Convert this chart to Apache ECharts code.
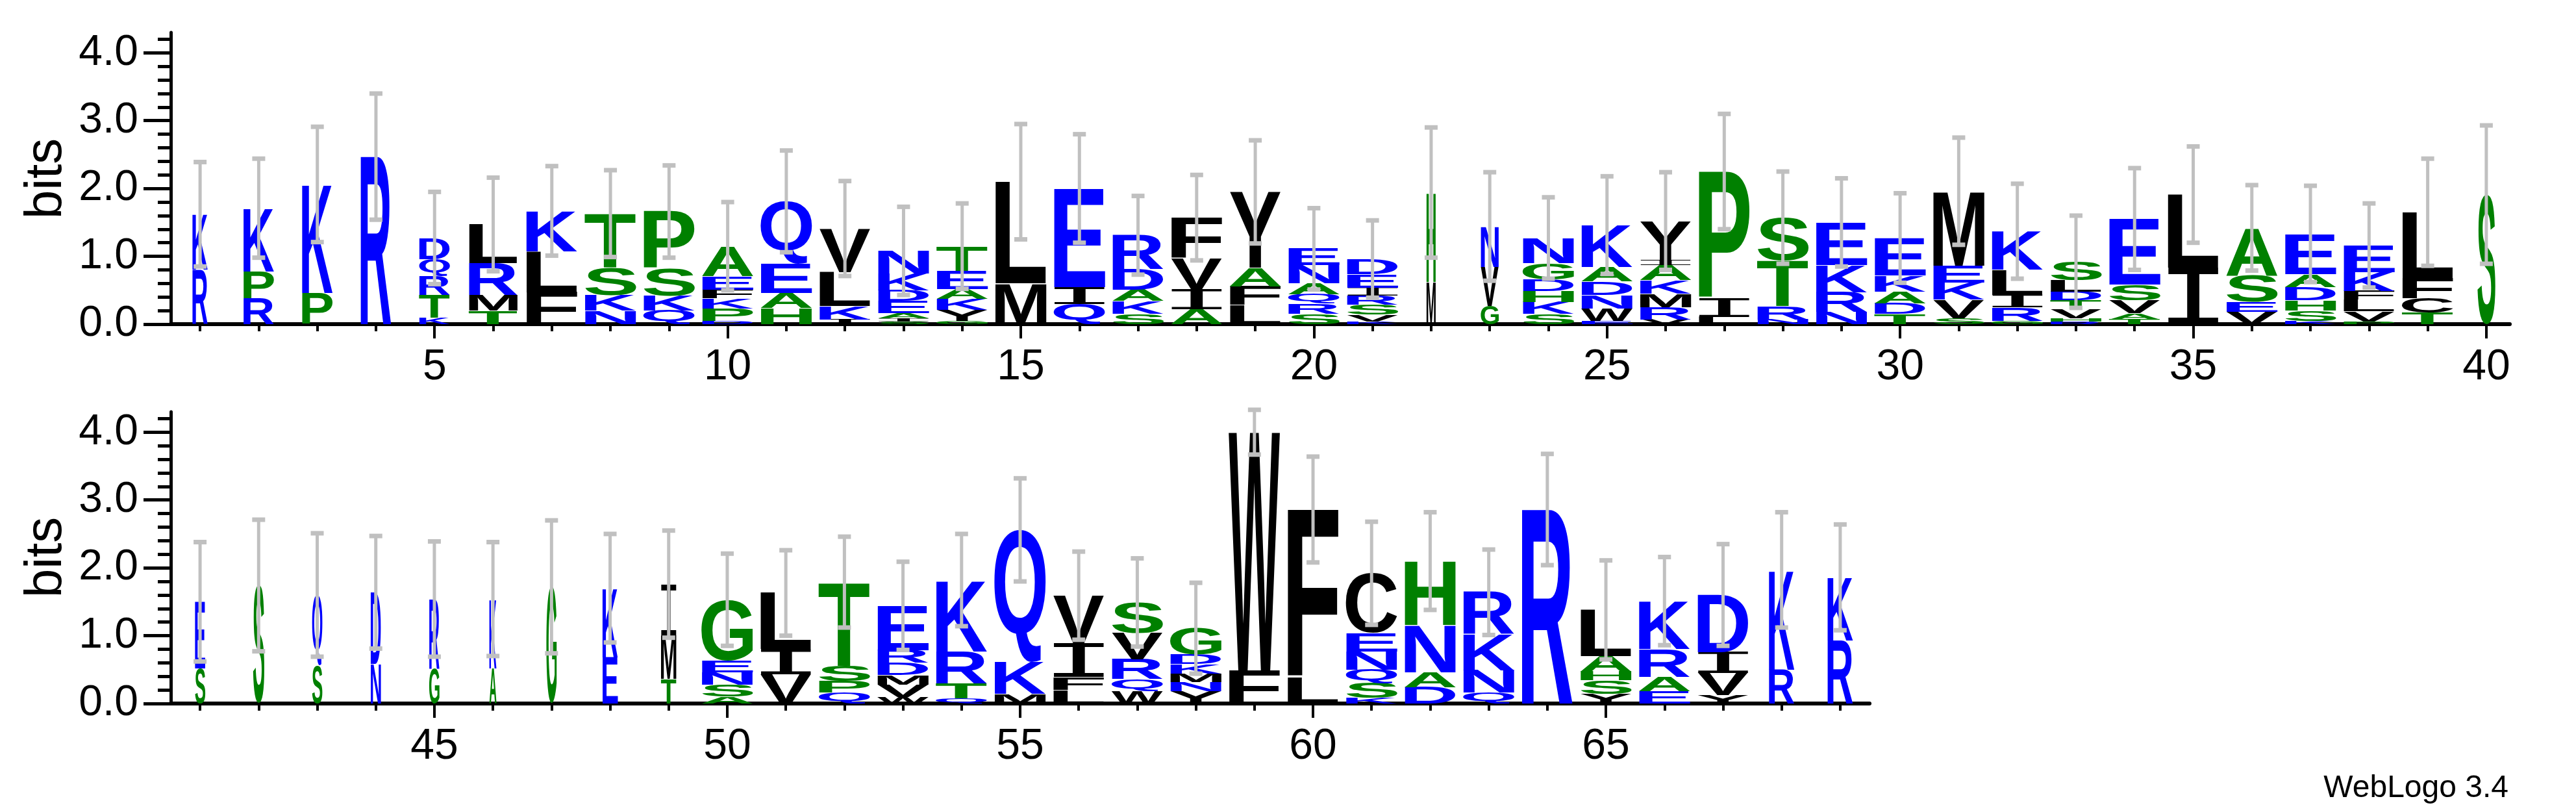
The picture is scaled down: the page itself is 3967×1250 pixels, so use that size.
<!DOCTYPE html>
<html><head><meta charset="utf-8">
<script src="https://cdn.jsdelivr.net/npm/echarts@6/dist/echarts.min.js"></script>
<style>html,body{margin:0;padding:0;background:#fff}#c{width:3967px;height:1250px}</style>
</head><body><div id="c"></div>
<script>
// ---------------- data ----------------
// letters listed bottom -> top for each position 1..69
const stackLetters = [
"RK","RPK","PK","R","KTRQD","TMRL","FLK","NKST","QKSP","DPKFEA",
"HAEQ","IKLV","SIAEDKN","GYKAET","ML","QIE","SKADR","AIVF","LFAY","SRQANE",
"KVSRIED","MH","GVN","SKHDGN","EWNDAK","VRMKAIY","LIP","NRTS","NRKE","TDAKE",
"SVKEM","GRILK","RHVTDLS","TAVSE","IL","VESA","KSHDAE","PVLFKE","TCFL","S",
"SE","S","SQ","ND","GR","AK","G","EK","TMI","ASNEG",
"VIL","QPST","WVMDRE","QTRK","MKQ","LFIV","WQRVS","YNMKDG","FW","LF",
"KSQNEC","DANH","QNKR","R","YSHAL","EARK","YVID","RK","RK"
];
const stackHeights = [
[0.80,0.82],[0.38,0.40,0.93],[0.46,1.60],[2.47],[0.10,0.33,0.28,0.25,0.31],
[0.20,0.23,0.47,0.57],[0.47,0.60,0.60],[0.20,0.23,0.40,0.80],[0.20,0.22,0.40,0.84],[0.05,0.18,0.15,0.13,0.20,0.44],
[0.24,0.22,0.43,0.92],[0.07,0.20,0.50,0.64],[0.04,0.05,0.07,0.18,0.16,0.25,0.33],[0.05,0.16,0.16,0.15,0.27,0.36],[0.60,1.50],
[0.30,0.25,1.45],[0.15,0.19,0.17,0.30,0.50],[0.22,0.30,0.45,0.60],[0.28,0.28,0.27,1.12],[0.15,0.15,0.14,0.16,0.27,0.24],
[0.04,0.10,0.15,0.13,0.12,0.20,0.22],[0.62,1.32],[0.27,0.57,0.60],[0.15,0.18,0.16,0.17,0.24,0.37],[0.05,0.18,0.20,0.20,0.21,0.62],
[0.07,0.18,0.20,0.20,0.22,0.07,0.58],[0.11,0.27,1.87],[0.07,0.20,0.67,0.63],[0.18,0.29,0.40,0.63],[0.15,0.16,0.17,0.24,0.55],
[0.09,0.27,0.25,0.25,1.10],[0.05,0.20,0.18,0.37,0.57],[0.04,0.05,0.13,0.13,0.13,0.17,0.27],[0.07,0.09,0.19,0.23,0.97],[0.83,1.08],
[0.18,0.15,0.39,0.70],[0.05,0.15,0.15,0.20,0.19,0.59],[0.04,0.15,0.17,0.13,0.28,0.39],[0.17,0.21,0.30,0.97],[1.91],
[0.52,0.98],[1.74],[0.56,1.04],[0.58,1.06],[0.52,1.02],
[0.52,1.02],[1.72],[0.68,1.02],[0.36,0.64,0.76],[0.10,0.18,0.18,0.17,0.90],
[0.43,0.37,0.83],[0.16,0.17,0.23,1.23],[0.10,0.18,0.14,0.18,0.19,0.65],[0.08,0.22,0.47,1.05],[0.14,0.47,1.95],
[0.20,0.19,0.50,0.70],[0.18,0.18,0.29,0.39,0.45],[0.18,0.14,0.12,0.14,0.14,0.39],[0.48,3.52],[0.38,2.48],
[0.08,0.22,0.20,0.27,0.27,0.88],[0.24,0.22,0.70,0.94],[0.16,0.33,0.53,0.62],[2.86],[0.14,0.20,0.13,0.23,0.68],
[0.18,0.21,0.41,0.71],[0.12,0.33,0.31,0.84],[0.50,1.47],[0.93,0.93]
];
const errUpper = [
2.39,2.44,2.91,3.40,1.95,2.16,2.33,2.27,2.34,1.80,
2.56,2.11,1.73,1.78,2.95,2.80,1.89,2.20,2.71,1.71,
1.53,2.90,2.24,1.87,2.18,2.24,3.10,2.25,2.15,1.93,
2.75,2.07,1.60,2.30,2.62,2.05,2.04,1.78,2.44,2.93,
2.38,2.71,2.51,2.47,2.39,2.38,2.70,2.50,2.55,2.21,
2.26,2.46,2.09,2.50,3.32,2.24,2.14,1.78,4.33,3.64,
2.68,2.82,2.27,3.68,2.11,2.16,2.35,2.82,2.64
];
// relative column weight (narrow letters where many gaps)
const colWeight = [
0.3,0.6,0.6,0.6,0.6,0.95,1,1,1,1, 1,1,1,1,1,1,1,1,1,1,
1,0.18,0.35,1,1,1,1,1,1,1, 1,1,1,1,1,1,1,1,1,0.35,
0.2,0.22,0.2,0.2,0.2,0.14,0.2,0.3,0.3,1, 1,1,1,1,1,1,1,1,1,1,
1,1,1,1,1,1,1,0.5,0.5
];
const yMajorTicks = [0,1,2,3,4];
const xMajorTicks1 = [5,10,15,20,25,30,35,40];
const xMajorTicks2 = [45,50,55,60,65];

// ---------------- helpers ----------------
const BLUE='#0000ff', GREEN='#008000', BLACK='#000000';
function colorOf(ch){
  if ('DEKNQR'.indexOf(ch)>=0) return BLUE;
  if ('AGHPST'.indexOf(ch)>=0) return GREEN;
  return BLACK;
}
const FONT='bold 100px "Liberation Sans", Arial, sans-serif';
const FONT_I='100px "DejaVu Sans Mono", "Liberation Mono", monospace';
const fontOf=ch=>ch==='I'?FONT_I:FONT;
const mcv=document.createElement('canvas').getContext('2d');
mcv.textBaseline='middle'; mcv.textAlign='left';
const bboxCache={};
function bbox(ch){
  if(!bboxCache[ch]){mcv.font=fontOf(ch);const m=mcv.measureText(ch);
    bboxCache[ch]={l:-m.actualBoundingBoxLeft,r:m.actualBoundingBoxRight,t:-m.actualBoundingBoxAscent,b:m.actualBoundingBoxDescent};}
  return bboxCache[ch];
}
const FULL=0.88;

function buildLetters(from,to){
  const out=[];
  for(let p=from;p<=to;p++){
    const L=stackLetters[p-1], H=stackHeights[p-1]; let y=0;
    for(let i=0;i<L.length;i++){out.push([p,y,y+H[i],L.charCodeAt(i),colWeight[p-1]]); y+=H[i];}
  }
  return out;
}
function buildErr(from,to){
  const out=[];
  for(let p=from;p<=to;p++){
    const top=stackHeights[p-1].reduce((a,b)=>a+b,0), up=errUpper[p-1];
    out.push([p,Math.max(0,2*top-up),up]);
  }
  return out;
}
function renderLetter(params,api){
  const pos=api.value(0),y0=api.value(1),y1=api.value(2),ch=String.fromCharCode(api.value(3)),w=api.value(4)*FULL/2;
  const a=api.coord([pos-w,y1]), b=api.coord([pos+w,y0]);
  const bb=bbox(ch);
  const sx=(b[0]-a[0])/(bb.r-bb.l), sy=(b[1]-a[1])/(bb.b-bb.t);
  if(!(sy>0)) return null;
  return {type:'text',silent:true,x:a[0]-sx*bb.l,y:a[1]-sy*bb.t,scaleX:sx,scaleY:sy,
    style:{text:ch,font:fontOf(ch),fill:colorOf(ch),align:'left',verticalAlign:'middle',lineHeight:100}};
}
function renderErr(params,api){
  const p=api.value(0), lo=api.coord([p,api.value(1)]), hi=api.coord([p,api.value(2)]);
  const cw=10, st={stroke:'#c0c0c0',lineWidth:5};
  return {type:'group',silent:true,children:[
    {type:'line',shape:{x1:lo[0],y1:lo[1],x2:hi[0],y2:hi[1]},style:st},
    {type:'line',shape:{x1:hi[0]-cw,y1:hi[1],x2:hi[0]+cw,y2:hi[1]},style:{stroke:'#c0c0c0',lineWidth:7}},
    {type:'line',shape:{x1:lo[0]-cw,y1:lo[1],x2:lo[0]+cw,y2:lo[1]},style:{stroke:'#c0c0c0',lineWidth:7}}
  ]};
}
const range=(a,b)=>{const r=[];for(let i=a;i<=b;i++)r.push(i);return r;};
const minorY=range(0,21).map(i=>+(i*0.2).toFixed(1));
const LBL={fontFamily:'"Liberation Sans Narrow","Liberation Sans",Arial',fontSize:66,color:'#000'};

function xAxes(grid,min,max,ticks,major){
  return [
    {gridIndex:grid,type:'value',position:'bottom',min,max,axisLine:{show:true,onZero:false,lineStyle:{color:'#000',width:6}},
      axisTick:{show:true,customValues:ticks,length:11,lineStyle:{color:'#000',width:4}},axisLabel:{show:false},splitLine:{show:false}},
    {gridIndex:grid,type:'value',position:'bottom',min,max,axisLine:{show:false,onZero:false},
      axisTick:{show:true,customValues:major,length:22,lineStyle:{color:'#000',width:4}},
      axisLabel:Object.assign({show:true,customValues:major,margin:34},LBL),splitLine:{show:false}}
  ];
}
function yAxes(grid){
  return [
    {gridIndex:grid,type:'value',position:'left',min:0,max:4.3,axisLine:{show:true,onZero:false,lineStyle:{color:'#000',width:5}},
      axisTick:{show:true,customValues:minorY,length:20,lineStyle:{color:'#000',width:5}},axisLabel:{show:false},splitLine:{show:false}},
    {gridIndex:grid,type:'value',position:'left',min:0,max:4.3,axisLine:{show:false,onZero:false},
      axisTick:{show:true,customValues:yMajorTicks,length:42,lineStyle:{color:'#000',width:5}},
      axisLabel:Object.assign({show:true,customValues:yMajorTicks,margin:50,formatter:v=>v.toFixed(1)},LBL),splitLine:{show:false}}
  ];
}

const chart=echarts.init(document.getElementById('c'),null,{renderer:'canvas'});
chart.setOption({
  animation:false,
  grid:[{left:263,right:102,top:50,bottom:751},{left:263,right:1088,top:634,bottom:167}],
  xAxis:[...xAxes(0,0.5,40.4,range(1,40),xMajorTicks1),...xAxes(1,40.5,69.5,range(41,69),xMajorTicks2)],
  yAxis:[...yAxes(0),...yAxes(1)],
  series:[
    {type:'custom',xAxisIndex:0,yAxisIndex:0,clip:false,renderItem:renderLetter,data:buildLetters(1,40)},
    {type:'custom',xAxisIndex:0,yAxisIndex:0,clip:false,renderItem:renderErr,data:buildErr(1,40)},
    {type:'custom',xAxisIndex:2,yAxisIndex:2,clip:false,renderItem:renderLetter,data:buildLetters(41,69)},
    {type:'custom',xAxisIndex:2,yAxisIndex:2,clip:false,renderItem:renderErr,data:buildErr(41,69)}
  ],
  graphic:[
    {type:'text',x:72,y:275,rotation:Math.PI/2,style:{text:'bits',font:'80px "Liberation Sans", Arial',fill:'#000',align:'center',verticalAlign:'middle'}},
    {type:'text',x:72,y:858,rotation:Math.PI/2,style:{text:'bits',font:'80px "Liberation Sans", Arial',fill:'#000',align:'center',verticalAlign:'middle'}},
    {type:'text',x:3863,y:1214,style:{text:'WebLogo 3.4',font:'48px "Liberation Sans", Arial',fill:'#000',align:'right',verticalAlign:'middle'}}
  ]
});
</script></body></html>
